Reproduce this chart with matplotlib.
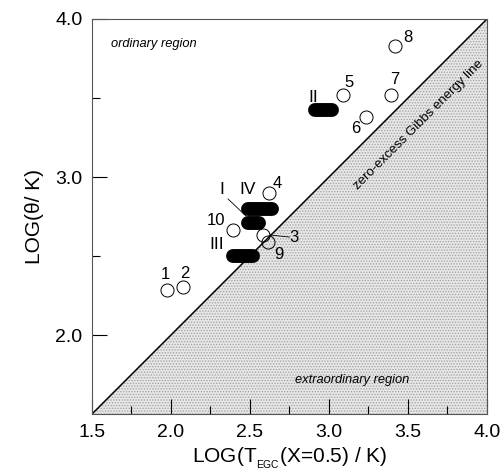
import matplotlib
matplotlib.use("Agg")
import matplotlib.pyplot as plt

plt.rcParams['font.family'] = ['Liberation Sans', 'DejaVu Sans']
plt.rcParams['mathtext.fontset'] = 'custom'
plt.rcParams['mathtext.rm'] = 'Liberation Sans'
plt.rcParams['hatch.linewidth'] = 0.6

# open circles: compound number, LOG(T_EGC), LOG(theta)
circle_ids = ["1", "2", "3", "4", "5", "6", "7", "8", "9", "10"]
circle_x = [1.975, 2.076, 2.582, 2.62, 3.089, 3.234, 3.39, 3.418, 2.614, 2.39]
circle_y = [2.285, 2.304, 2.633, 2.90, 3.519, 3.38, 3.52, 3.83, 2.589, 2.665]

# black ranges (roman numerals)
bar_ids = ["I", "II", "III", "IV"]
bar_x0 = [2.49, 2.91, 2.39, 2.49]
bar_x1 = [2.56, 3.02, 2.52, 2.64]
bar_y = [2.709, 3.424, 2.50, 2.797]

# label offsets in points
circle_off = {"1": (-1, 11), "2": (1, 10), "3": (22, -2), "4": (6, 7),
              "5": (4, 9), "6": (-7, -8), "7": (3, 11), "8": (9, 6),
              "9": (8, -9), "10": (-12, 7)}
bar_off = {"I": (-23, 24), "II": (-7, 9), "III": (-19, 8), "IV": (-9, 14)}

fig = plt.figure(figsize=(5.01, 4.75), dpi=100)
ax = fig.add_axes([0.1836, 0.1284, 0.7884, 0.8316])

# extraordinary region below the line
ax.fill_between([1.5, 4.0], [1.5, 4.0], 1.5, facecolor='#e6e6e6',
                edgecolor='#a0a0a0', hatch='......', linewidth=0, zorder=0)
ax.plot([1.5, 4.0], [1.5, 4.0], color='black', linewidth=1.1, zorder=2)

for bid, x0, x1, y in zip(bar_ids, bar_x0, bar_x1, bar_y):
    ax.plot([x0, x1], [y, y], color='black', linewidth=10,
            solid_capstyle='round', zorder=4)
    dx, dy = bar_off[bid]
    ax.annotate(bid, ((x0 + x1) / 2, y), xytext=(dx, dy),
                textcoords='offset points', ha='center', va='center',
                fontsize=12.5, zorder=5)

ax.plot(circle_x, circle_y, 'o', markersize=9.4, markerfacecolor='none',
        markeredgecolor='black', markeredgewidth=0.7, zorder=3)
for cid, x, y in zip(circle_ids, circle_x, circle_y):
    dx, dy = circle_off[cid]
    ax.annotate(cid, (x, y), xytext=(dx, dy), textcoords='offset points',
                ha='center', va='center', fontsize=12, zorder=5)

# leader lines
ax.plot([2.361, 2.475], [2.861, 2.753], color='black', linewidth=0.6, zorder=3)
ax.plot([2.627, 2.75], [2.633, 2.62], color='black', linewidth=0.6, zorder=3)

ax.text(1.618, 3.84, "ordinary region", style='italic', fontsize=9.3,
        ha='left', va='center')
ax.text(3.146, 1.715, "extraordinary region", style='italic', fontsize=9.3,
        ha='center', va='center')
ax.text(3.565, 3.33, "zero-excess Gibbs energy line", rotation=45,
        fontsize=9.5, ha='center', va='center', rotation_mode='anchor')

ax.set_xlim(1.5, 4.0)
ax.set_ylim(1.5, 4.0)
ax.set_xticks([1.5, 2.0, 2.5, 3.0, 3.5, 4.0])
ax.set_yticks([2.0, 3.0, 4.0])
ax.set_xticks([1.75, 2.25, 2.75, 3.25, 3.75], minor=True)
ax.set_yticks([2.5, 3.5], minor=True)
ax.set_xticklabels(["1.5", "2.0", "2.5", "3.0", "3.5", "4.0"])
ax.set_yticklabels(["2.0", "3.0", "4.0"])
ax.tick_params(which='both', direction='in', top=False, right=False,
               labelsize=14, width=0.8)
ax.tick_params(which='major', length=11, pad=7)
ax.tick_params(which='minor', length=6)
for s in ax.spines.values():
    s.set_linewidth(0.8)
    s.set_color('#555555')

ax.set_xlabel(r"LOG(T$_{_{\mathrm{EGC}}}$(X=0.5) / K)", fontsize=15, labelpad=4)
ax.set_ylabel("LOG(θ/ K)", fontsize=15, labelpad=8)

fig.savefig("out.png", dpi=100)
